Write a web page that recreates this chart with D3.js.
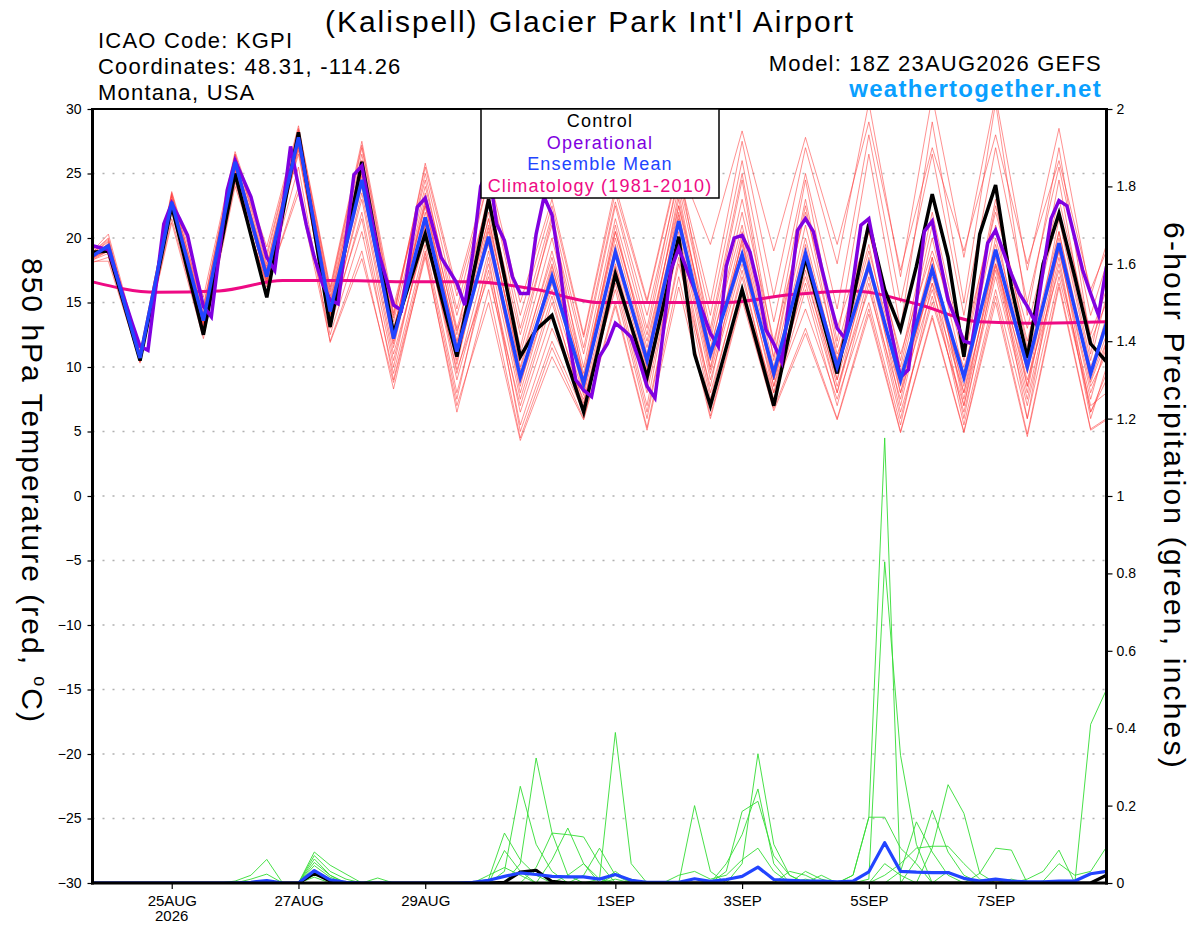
<!DOCTYPE html>
<html>
<head>
<meta charset="utf-8">
<script src="https://cdn.jsdelivr.net/npm/d3@7"></script>
<style>
  body { margin: 0; background: #fff; }
  svg { font-family: "Liberation Sans", Arial, Helvetica, sans-serif; }
</style>
</head>
<body>
<svg id="chart" width="1200" height="927"></svg>
<script>
// model run start: 18Z 23AUG2026, 6-hourly steps out to 384 h
const runStart = Date.UTC(2026, 7, 23, 18);
const runEnd = Date.UTC(2026, 8, 8, 18);

const dateTicks = ["2026-08-25", "2026-08-27", "2026-08-29", "2026-09-01",
  "2026-09-03", "2026-09-05", "2026-09-07"];
const tempTicks = [-30, -25, -20, -15, -10, -5, 0, 5, 10, 15, 20, 25, 30];
const precipTicks = [0, 0.2, 0.4, 0.6, 0.8, 1, 1.2, 1.4, 1.6, 1.8, 2];

// control run 850 hPa temperature, 6-hourly (h = 0..384)
const controlTemp = [18.9, 19.0, 14.8, 10.5, 16.5, 22.5, 17.5, 12.5, 18.8, 25.0,
  20.2, 15.4, 21.8, 28.2, 20.6, 13.1, 19.5, 25.9, 19.2, 12.6,
  16.5, 20.3, 15.5, 10.8, 17.0, 23.0, 17.0, 10.8, 12.9, 14.0,
  10.2, 6.5, 11.8, 17.2, 13.2, 9.2, 14.6, 20.1, 11.0, 7.0,
  11.5, 16.0, 11.5, 7.0, 12.7, 18.5, 14.0, 9.5, 15.3, 21.1,
  16.0, 12.9, 17.8, 23.4, 18.5, 10.8, 20.3, 24.1, 16.2, 10.7,
  18.0, 21.9, 17.0, 11.8, 10.4];

// ensemble mean, 6-hourly
const meanTemp = [18.6, 19.4, 15.0, 10.7, 16.8, 22.8, 18.2, 13.6, 19.8, 25.9,
  21.4, 17.0, 22.4, 27.8, 21.0, 14.3, 19.4, 24.5, 18.4, 12.2,
  16.9, 21.6, 16.4, 11.2, 15.6, 20.1, 14.6, 9.2, 13.1, 17.0,
  12.8, 8.7, 13.8, 18.9, 14.7, 10.5, 15.9, 21.3, 16.1, 11.0,
  14.8, 18.7, 14.1, 9.5, 14.1, 18.8, 14.4, 10.0, 14.0, 17.9,
  13.4, 9.0, 13.3, 17.6, 13.4, 9.2, 14.1, 19.1, 14.5, 10.0,
  14.8, 19.6, 14.5, 9.5, 13.4];

// operational run, 3-hourly
const operTemp = [19.4, 19.25, 19.1, 17.2, 15.3, 13.4, 11.6, 11.3, 16.2, 21.1,
  22.7, 21.5, 20.2, 17.4, 14.7, 13.9, 18.8, 23.7, 26.0, 24.6,
  23.2, 20.8, 18.5, 17.5, 22.3, 27.1, 24.0, 21.0, 18.5, 16.5,
  15.2, 14.9, 19.9, 24.9, 25.6, 22.3, 19.1, 17.0, 14.8, 14.4,
  18.4, 22.4, 23.1, 20.8, 18.5, 17.5, 16.5, 14.8, 18.8, 24.0,
  25.5, 21.1, 19.8, 17.0, 15.7, 15.7, 20.3, 23.2, 21.8, 17.8,
  12.6, 9.0, 8.2, 7.7, 10.8, 11.8, 13.4, 12.9, 12.3, 10.5,
  8.5, 7.6, 12.5, 17.5, 19.2, 17.6, 16.0, 14.3, 12.6, 11.6,
  17.8, 20.0, 20.2, 18.9, 16.3, 12.9, 11.8, 10.4, 15.5, 20.6,
  21.5, 20.5, 17.8, 15.3, 13.0, 12.2, 16.6, 21.0, 21.5, 18.3,
  15.2, 12.2, 9.2, 9.8, 15.0, 20.5, 21.3, 18.2, 15.2, 13.6,
  12.0, 11.8, 15.7, 19.6, 20.6, 18.9, 17.2, 15.7, 14.7, 13.5,
  17.5, 21.5, 22.9, 22.5, 20.0, 17.5, 15.7, 14.0, 17.8];

// climatology (1981-2010), daily at 18Z
const climHours = [0, 24, 48, 72, 96, 120, 144, 168, 192, 216, 240, 264, 288, 312, 336, 360, 384];
const climTemp = [16.6, 15.8, 15.9, 16.7, 16.7, 16.6, 16.6, 16.0, 15.0, 15.0, 15.0, 15.6, 15.9, 14.9, 13.5, 13.4, 13.5];

// ensemble members, values at 00Z/12Z plus first and last step
const memberHours = [0, 6, 18, 30, 42, 54, 66, 78, 90, 102, 114, 126, 138, 150, 162, 174, 186,
  198, 210, 222, 234, 246, 258, 270, 282, 294, 306, 318, 330, 342, 354, 366, 378, 384];
const memberTemps = [
  [18.8, 19.8, 10.9, 23.2, 14.0, 26.2, 17.5, 28.2, 15.0, 26.0, 13.5, 24.0, 14.0, 23.0, 12.5, 21.0, 11.0, 22.5, 13.0, 25.0, 15.0, 27.5, 15.5, 27.0, 18.0, 30.5, 17.0, 31.0, 18.5, 31.0, 17.5, 28.5, 15.5, 19.5],
  [18.2, 18.2, 10.4, 21.5, 12.5, 24.3, 16.4, 23.5, 12.0, 19.0, 8.3, 18.8, 6.5, 16.0, 4.5, 11.5, 6.0, 15.0, 5.3, 17.0, 6.2, 15.5, 6.8, 13.0, 6.0, 14.5, 5.0, 14.0, 5.0, 15.5, 4.8, 16.5, 5.2, 6.0],
  [18.5, 19.2, 10.6, 22.6, 13.3, 25.6, 16.8, 27.5, 14.0, 24.0, 12.0, 21.0, 11.0, 20.5, 9.0, 17.5, 8.0, 19.5, 10.0, 21.5, 10.5, 19.0, 9.0, 19.5, 9.5, 18.0, 8.5, 17.0, 8.5, 19.5, 9.5, 20.0, 9.0, 12.5],
  [19.0, 20.3, 11.2, 23.4, 14.8, 26.5, 18.8, 28.5, 16.0, 27.2, 14.2, 25.5, 15.5, 24.5, 14.0, 22.5, 12.3, 23.5, 15.0, 25.5, 12.0, 23.0, 12.0, 22.0, 13.0, 20.5, 11.0, 19.0, 12.0, 22.0, 13.0, 23.0, 12.5, 16.0],
  [18.3, 18.8, 10.5, 22.0, 13.0, 25.2, 16.8, 26.8, 13.5, 23.0, 10.5, 20.5, 9.0, 18.0, 6.5, 14.0, 7.0, 17.0, 7.0, 20.0, 8.0, 17.0, 7.5, 16.0, 7.0, 16.5, 6.0, 15.5, 6.5, 17.0, 7.0, 18.0, 6.5, 9.0],
  [18.7, 19.5, 10.8, 22.9, 13.8, 25.9, 17.2, 27.9, 14.5, 25.0, 12.5, 22.5, 12.0, 21.5, 10.0, 19.0, 9.5, 20.5, 11.5, 23.0, 11.5, 21.0, 10.0, 21.0, 11.0, 17.5, 9.0, 16.5, 10.0, 18.0, 10.0, 19.0, 8.5, 11.0],
  [18.9, 20.0, 11.0, 23.0, 14.5, 26.5, 18.0, 28.0, 15.5, 26.5, 13.8, 25.8, 16.0, 25.0, 15.0, 23.0, 12.5, 24.0, 15.2, 25.8, 19.5, 28.3, 19.0, 27.8, 19.5, 29.0, 17.5, 27.0, 19.0, 28.0, 18.0, 26.0, 16.0, 19.0],
  [18.4, 19.0, 10.3, 22.3, 13.2, 24.5, 16.2, 24.0, 12.5, 20.5, 9.5, 19.5, 8.0, 17.5, 5.5, 13.0, 7.5, 16.0, 6.0, 18.5, 7.0, 16.0, 8.0, 14.5, 7.5, 15.0, 5.5, 16.5, 5.5, 16.0, 6.0, 17.0, 7.0, 8.0],
  [18.6, 19.3, 10.7, 22.8, 13.5, 25.8, 17.0, 27.6, 14.2, 24.5, 11.5, 22.0, 10.5, 20.0, 8.0, 16.5, 8.5, 18.5, 9.5, 21.0, 9.5, 18.5, 8.0, 18.0, 8.5, 16.0, 7.5, 18.0, 7.5, 18.5, 8.5, 19.0, 8.0, 11.5],
  [18.5, 19.6, 10.9, 23.6, 15.4, 26.7, 19.3, 28.7, 16.2, 27.5, 14.7, 24.5, 13.0, 22.0, 11.0, 20.0, 10.0, 21.5, 12.5, 24.0, 13.0, 25.0, 11.5, 24.5, 12.0, 26.5, 13.0, 29.0, 15.0, 30.5, 14.0, 27.0, 12.0, 15.0],
  [18.1, 18.5, 10.5, 21.2, 12.2, 24.0, 16.5, 25.5, 11.9, 18.4, 8.8, 18.5, 7.0, 15.0, 4.3, 10.8, 5.9, 14.7, 5.1, 16.2, 6.0, 15.2, 6.6, 12.6, 5.9, 14.1, 4.9, 13.8, 4.9, 15.0, 4.6, 16.2, 5.1, 5.9],
  [18.8, 19.7, 11.0, 23.3, 14.2, 26.0, 17.8, 28.3, 15.2, 26.0, 12.8, 23.5, 12.5, 23.5, 11.5, 21.5, 9.0, 20.5, 12.0, 22.5, 12.5, 24.5, 10.5, 22.5, 10.5, 21.5, 10.5, 22.0, 11.0, 23.0, 11.5, 24.5, 11.0, 17.0],
  [18.6, 19.1, 10.6, 22.5, 13.5, 25.0, 17.3, 27.0, 13.0, 22.0, 10.0, 21.0, 9.5, 19.0, 7.5, 15.5, 6.5, 17.5, 8.0, 19.5, 7.5, 17.5, 7.0, 17.5, 8.0, 17.0, 6.5, 15.0, 7.0, 17.5, 7.5, 18.5, 6.0, 10.0],
  [18.4, 19.2, 10.8, 22.7, 13.4, 25.5, 16.6, 27.2, 14.8, 25.5, 13.0, 22.5, 11.5, 21.0, 10.5, 18.5, 9.0, 21.0, 11.0, 22.0, 10.0, 20.5, 9.5, 20.0, 10.0, 19.0, 9.5, 20.0, 9.5, 21.0, 8.5, 21.5, 10.0, 13.5],
  [18.7, 19.4, 10.6, 23.0, 13.9, 26.1, 17.4, 28.0, 13.8, 24.8, 12.2, 22.8, 11.8, 21.5, 9.8, 18.0, 8.2, 19.2, 9.8, 22.5, 11.0, 19.5, 9.0, 19.0, 10.5, 19.5, 8.0, 18.5, 8.0, 20.0, 10.5, 20.5, 9.5, 14.0],
  [18.3, 19.0, 10.4, 22.2, 13.0, 25.4, 16.6, 27.3, 13.2, 23.5, 11.0, 20.0, 9.8, 17.0, 7.0, 15.0, 7.2, 17.8, 8.5, 20.5, 9.0, 18.0, 8.5, 16.5, 8.0, 18.5, 7.0, 17.5, 6.0, 18.0, 9.0, 17.5, 7.5, 12.0],
  [18.5, 19.0, 10.5, 22.4, 13.8, 25.3, 17.6, 26.5, 13.6, 21.5, 9.0, 19.0, 7.5, 18.5, 5.0, 12.0, 6.5, 16.5, 6.5, 18.0, 8.5, 20.0, 9.0, 17.0, 9.0, 21.0, 9.0, 18.5, 7.0, 19.0, 6.0, 19.5, 6.5, 9.5],
  [18.9, 19.9, 11.1, 23.5, 14.6, 26.4, 18.5, 28.4, 15.8, 27.0, 14.0, 25.0, 14.5, 24.5, 13.0, 21.8, 11.5, 22.8, 14.0, 24.5, 14.0, 26.0, 13.5, 25.0, 14.5, 28.0, 15.0, 26.5, 14.0, 27.0, 15.0, 25.5, 14.0, 18.0],
  [18.4, 19.5, 10.8, 22.9, 13.6, 25.7, 17.1, 27.7, 14.6, 25.2, 12.6, 23.0, 12.8, 19.5, 8.5, 17.8, 9.2, 20.0, 10.8, 23.5, 11.2, 22.0, 10.8, 23.0, 11.5, 20.5, 10.0, 21.0, 10.5, 22.5, 12.0, 22.0, 10.5, 15.5],
  [18.6, 19.2, 10.6, 22.6, 13.4, 25.6, 17.0, 27.1, 14.1, 24.2, 11.8, 21.5, 10.2, 20.8, 8.8, 16.0, 7.8, 18.0, 9.0, 21.8, 9.8, 19.8, 8.5, 19.0, 9.0, 17.5, 8.0, 16.0, 8.0, 17.8, 8.0, 20.5, 8.8, 12.0]
];

// 6-hour precipitation (inches), 6-hourly
const controlPrecip = [0, 0, 0, 0, 0, 0, 0, 0, 0, 0,
  0, 0, 0, 0, 0.025, 0.005, 0, 0, 0, 0,
  0, 0, 0, 0, 0, 0, 0.002, 0.028, 0.033, 0.004,
  0, 0, 0, 0, 0, 0, 0, 0, 0, 0,
  0, 0, 0, 0, 0, 0, 0, 0, 0, 0,
  0, 0, 0, 0, 0, 0, 0, 0, 0, 0,
  0, 0, 0, 0, 0.02];
const meanPrecip = [0, 0, 0, 0, 0, 0, 0, 0, 0, 0,
  0.002, 0.006, 0, 0, 0.032, 0.008, 0.002, 0, 0, 0,
  0, 0, 0, 0, 0.002, 0.007, 0.017, 0.026, 0.022, 0.017,
  0.016, 0.016, 0.010, 0.022, 0.007, 0.002, 0.002, 0.002, 0.011, 0.004,
  0.009, 0.017, 0.041, 0.009, 0.007, 0.005, 0.005, 0.003, 0.005, 0.029,
  0.104, 0.030, 0.028, 0.027, 0.027, 0.012, 0.005, 0.010, 0.005, 0.003,
  0.003, 0.005, 0.005, 0.024, 0.030];
const memberPrecip = [
  [0, 0, 0, 0, 0, 0, 0, 0, 0, 0,
   0, 0, 0, 0, 0.08, 0.046, 0.023, 0, 0, 0,
   0, 0, 0, 0, 0, 0, 0.03, 0.25, 0.10, 0.03,
   0, 0, 0, 0, 0, 0, 0, 0, 0, 0,
   0, 0, 0, 0, 0, 0.01, 0, 0, 0.02, 0.17,
   1.15, 0, 0, 0, 0, 0, 0, 0, 0, 0,
   0, 0, 0, 0, 0],
  [0, 0, 0, 0, 0, 0, 0, 0, 0, 0,
   0, 0, 0, 0, 0.071, 0.03, 0.01, 0, 0, 0,
   0, 0, 0, 0, 0, 0, 0, 0.05, 0.323, 0.13,
   0.02, 0, 0, 0, 0, 0, 0, 0, 0, 0,
   0, 0, 0, 0, 0, 0, 0, 0, 0, 0.01,
   0.83, 0.33, 0.10, 0, 0, 0, 0, 0, 0, 0,
   0, 0, 0, 0, 0],
  [0, 0, 0, 0, 0, 0, 0, 0, 0, 0.005,
   0.02, 0.061, 0, 0, 0.062, 0.02, 0, 0, 0, 0,
   0, 0, 0, 0, 0, 0.01, 0.129, 0.06, 0.02, 0,
   0, 0, 0.01, 0.389, 0.05, 0, 0, 0, 0.20, 0.03,
   0, 0, 0, 0, 0, 0, 0, 0, 0, 0,
   0, 0, 0, 0, 0, 0, 0, 0, 0, 0,
   0, 0, 0, 0, 0],
  [0, 0, 0, 0, 0, 0, 0, 0, 0, 0,
   0, 0, 0, 0, 0.053, 0.02, 0, 0, 0, 0,
   0, 0, 0, 0, 0, 0, 0, 0, 0.04, 0.129,
   0.125, 0.119, 0.05, 0, 0, 0, 0, 0, 0, 0,
   0, 0.05, 0.334, 0.10, 0.02, 0, 0, 0, 0, 0,
   0, 0, 0, 0, 0, 0, 0, 0, 0, 0.01,
   0.03, 0.085, 0, 0.41, 0.50],
  [0, 0, 0, 0, 0, 0, 0, 0, 0, 0,
   0, 0, 0, 0, 0.045, 0.015, 0, 0, 0.013, 0,
   0, 0, 0, 0, 0, 0, 0, 0, 0, 0.06,
   0.142, 0.05, 0, 0, 0, 0, 0, 0, 0, 0,
   0.03, 0.185, 0.211, 0.07, 0.02, 0, 0, 0, 0, 0,
   0, 0.03, 0.158, 0.08, 0.02, 0, 0, 0, 0, 0,
   0, 0, 0, 0, 0],
  [0, 0, 0, 0, 0, 0, 0, 0, 0, 0,
   0, 0, 0, 0, 0.032, 0.01, 0, 0, 0, 0,
   0, 0, 0, 0, 0, 0, 0, 0, 0, 0,
   0, 0.02, 0.09, 0.02, 0, 0, 0, 0, 0, 0,
   0.05, 0.125, 0.243, 0.05, 0, 0, 0, 0, 0, 0,
   0, 0, 0.06, 0.188, 0.08, 0.02, 0, 0, 0, 0,
   0, 0, 0, 0, 0],
  [0, 0, 0, 0, 0, 0, 0, 0, 0, 0,
   0.01, 0.023, 0, 0, 0.02, 0.01, 0, 0, 0, 0,
   0, 0, 0, 0, 0, 0, 0.084, 0.03, 0, 0,
   0, 0, 0, 0.02, 0.01, 0, 0, 0.02, 0.03, 0.01,
   0.02, 0.06, 0.09, 0.03, 0, 0, 0, 0, 0, 0,
   0, 0, 0, 0.09, 0.254, 0.18, 0.025, 0, 0, 0,
   0, 0, 0, 0, 0],
  [0, 0, 0, 0, 0, 0, 0, 0, 0, 0,
   0, 0, 0, 0, 0.015, 0, 0, 0, 0, 0,
   0, 0, 0, 0, 0, 0, 0, 0, 0, 0,
   0, 0, 0, 0.01, 0, 0, 0, 0, 0, 0,
   0, 0, 0, 0, 0, 0.03, 0.01, 0, 0.02, 0.17,
   0.17, 0.09, 0.05, 0, 0, 0, 0.025, 0.09, 0.085, 0,
   0, 0, 0, 0, 0],
  [0, 0, 0, 0, 0, 0, 0, 0, 0, 0,
   0, 0, 0, 0, 0, 0, 0, 0, 0, 0,
   0, 0, 0, 0, 0, 0, 0, 0, 0, 0,
   0, 0, 0, 0.03, 0, 0, 0, 0, 0, 0,
   0, 0, 0, 0, 0.03, 0.02, 0, 0, 0, 0,
   0.02, 0.05, 0.09, 0.095, 0.095, 0.05, 0.01, 0, 0, 0,
   0.005, 0.05, 0.02, 0.03, 0.093],
  [0, 0, 0, 0, 0, 0, 0, 0, 0, 0,
   0, 0, 0, 0, 0.025, 0.01, 0, 0, 0, 0,
   0, 0, 0, 0, 0, 0.02, 0.04, 0.02, 0, 0,
   0.02, 0.05, 0.01, 0, 0, 0, 0, 0, 0.01, 0,
   0, 0, 0, 0, 0, 0, 0.02, 0, 0, 0,
   0.05, 0.02, 0, 0, 0.03, 0.01, 0, 0, 0.01, 0,
   0, 0, 0, 0, 0.02]
];

const legendItems = [
  { label: "Control", color: "#000000" },
  { label: "Operational", color: "#8000e0" },
  { label: "Ensemble Mean", color: "#2244ff" },
  { label: "Climatology (1981-2010)", color: "#ee0a84" }
];

// ---------------------------------------------------------------
const svg = d3.select("#chart");
const plot = { left: 92.5, right: 1106.5, top: 109, bottom: 883 };
const hour = 3600 * 1000;

const x = d3.scaleUtc().domain([runStart, runEnd]).range([plot.left, plot.right]);
const yT = d3.scaleLinear().domain([-30, 30]).range([plot.bottom, plot.top]);
const yP = d3.scaleLinear().domain([0, 2]).range([plot.bottom, plot.top]);

svg.append("rect").attr("width", 1200).attr("height", 927).attr("fill", "#fff");

svg.append("defs").append("clipPath").attr("id", "plot-clip")
  .append("rect")
  .attr("x", plot.left).attr("y", plot.top)
  .attr("width", plot.right - plot.left).attr("height", plot.bottom - plot.top);

// dotted grid at temperature ticks
svg.append("g")
  .selectAll("line")
  .data(tempTicks.filter(d => d > -30 && d < 30))
  .enter()
  .append("line")
  .attr("x1", plot.left).attr("x2", plot.right)
  .attr("y1", d => yT(d)).attr("y2", d => yT(d))
  .attr("stroke", "#b0b0b0")
  .attr("stroke-width", 1.3)
  .attr("stroke-dasharray", "2,8");

const lines = svg.append("g").attr("clip-path", "url(#plot-clip)");

const lineAt = (stepHours, scale) => d3.line()
  .x((_, i) => x(runStart + i * stepHours * hour))
  .y(d => scale(d));

// ensemble member temperatures
lines.append("g")
  .selectAll("path")
  .data(memberTemps)
  .enter()
  .append("path")
  .attr("d", d3.line()
    .x((_, i) => x(runStart + memberHours[i] * hour))
    .y(d => yT(d)))
  .attr("fill", "none")
  .attr("stroke", "#ff3a3a")
  .attr("stroke-opacity", 0.7)
  .attr("stroke-width", 0.8);

// ensemble member precipitation
lines.append("g")
  .selectAll("path")
  .data(memberPrecip)
  .enter()
  .append("path")
  .attr("d", lineAt(6, yP))
  .attr("fill", "none")
  .attr("stroke", "#33dd33")
  .attr("stroke-width", 0.9);

lines.append("path")
  .datum(controlPrecip)
  .attr("d", lineAt(6, yP))
  .attr("fill", "none")
  .attr("stroke", "#000")
  .attr("stroke-width", 3.2)
  .attr("stroke-linejoin", "round");

lines.append("path")
  .datum(meanPrecip)
  .attr("d", lineAt(6, yP))
  .attr("fill", "none")
  .attr("stroke", "#2244ff")
  .attr("stroke-width", 3.2)
  .attr("stroke-linejoin", "round");

// climatology
lines.append("path")
  .datum(climTemp)
  .attr("d", d3.line()
    .x((_, i) => x(runStart + climHours[i] * hour))
    .y(d => yT(d))
    .curve(d3.curveMonotoneX))
  .attr("fill", "none")
  .attr("stroke", "#ee0a84")
  .attr("stroke-width", 3);

lines.append("path")
  .datum(controlTemp)
  .attr("d", lineAt(6, yT))
  .attr("fill", "none")
  .attr("stroke", "#000")
  .attr("stroke-width", 3.5);

lines.append("path")
  .datum(operTemp)
  .attr("d", lineAt(3, yT))
  .attr("fill", "none")
  .attr("stroke", "#8000e0")
  .attr("stroke-width", 3.5);

lines.append("path")
  .datum(meanTemp)
  .attr("d", lineAt(6, yT))
  .attr("fill", "none")
  .attr("stroke", "#2244ff")
  .attr("stroke-width", 3.5);

// axes
const leftAxis = svg.append("g")
  .attr("transform", `translate(${plot.left},0)`)
  .call(d3.axisLeft(yT).tickValues(tempTicks).tickSize(5).tickPadding(6));
const rightAxis = svg.append("g")
  .attr("transform", `translate(${plot.right},0)`)
  .call(d3.axisRight(yP).tickValues(precipTicks).tickSize(6).tickPadding(4)
    .tickFormat(d3.format("~g")));
const bottomAxis = svg.append("g")
  .attr("transform", `translate(0,${plot.bottom})`)
  .call(d3.axisBottom(x)
    .tickValues(dateTicks.map(d => new Date(d + "T00:00:00Z")))
    .tickSize(6).tickPadding(6)
    .tickFormat(d => d3.utcFormat("%-d%b")(d).toUpperCase()));

[leftAxis, rightAxis, bottomAxis].forEach(g => {
  g.select(".domain").remove();
  g.selectAll("text").attr("fill", "#000").style("font-family", "Liberation Sans, Arial, sans-serif");
  g.selectAll("line").attr("stroke", "#000").attr("stroke-width", 1.2);
});
leftAxis.selectAll("text").style("font-size", "14px");
rightAxis.selectAll("text").style("font-size", "14px");
bottomAxis.selectAll("text").style("font-size", "15px");

svg.append("text")
  .attr("x", x(new Date(dateTicks[0] + "T00:00:00Z")))
  .attr("y", 921)
  .attr("text-anchor", "middle")
  .style("font-size", "15px")
  .text("2026");

// frame
const frame = svg.append("g").attr("stroke", "#000");
frame.append("line").attr("x1", plot.left).attr("x2", plot.right)
  .attr("y1", plot.top).attr("y2", plot.top).attr("stroke-width", 2);
frame.append("line").attr("x1", plot.left - 1.5).attr("x2", plot.right + 1.5)
  .attr("y1", plot.bottom).attr("y2", plot.bottom).attr("stroke-width", 3);
frame.append("line").attr("x1", plot.left).attr("x2", plot.left)
  .attr("y1", plot.top - 1).attr("y2", plot.bottom + 1.5).attr("stroke-width", 3);
frame.append("line").attr("x1", plot.right).attr("x2", plot.right)
  .attr("y1", plot.top - 1).attr("y2", plot.bottom + 1.5).attr("stroke-width", 3);

// legend
const legend = svg.append("g");
legend.append("rect")
  .attr("x", 481).attr("y", plot.top)
  .attr("width", 238).attr("height", 89)
  .attr("fill", "#fff").attr("stroke", "#000").attr("stroke-width", 1.5);
legend.selectAll("text")
  .data(legendItems)
  .enter()
  .append("text")
  .attr("x", 600)
  .attr("y", (_, i) => 127 + i * 21.6)
  .attr("text-anchor", "middle")
  .attr("fill", d => d.color)
  .style("font-size", "18px")
  .style("letter-spacing", "1.2px")
  .text(d => d.label);

// titles
svg.append("text")
  .attr("x", 590).attr("y", 32)
  .attr("text-anchor", "middle")
  .style("font-size", "30px")
  .style("letter-spacing", "2px")
  .text("(Kalispell) Glacier Park Int'l Airport");

const info = ["ICAO Code: KGPI", "Coordinates: 48.31, -114.26", "Montana, USA"];
svg.append("g")
  .selectAll("text")
  .data(info)
  .enter()
  .append("text")
  .attr("x", 98)
  .attr("y", (_, i) => 48 + i * 26)
  .style("font-size", "22px")
  .style("letter-spacing", "1.2px")
  .text(d => d);

svg.append("text")
  .attr("x", 1102).attr("y", 71)
  .attr("text-anchor", "end")
  .style("font-size", "22px")
  .style("letter-spacing", "1.2px")
  .text("Model: 18Z 23AUG2026 GEFS");

svg.append("text")
  .attr("x", 1102).attr("y", 97)
  .attr("text-anchor", "end")
  .attr("fill", "#0aa0ff")
  .style("font-size", "24px")
  .style("font-weight", "bold")
  .style("letter-spacing", "1.3px")
  .text("weathertogether.net");

// axis titles, both read top to bottom
const leftTitle = svg.append("text")
  .attr("transform", "translate(22,491) rotate(90)")
  .attr("text-anchor", "middle")
  .style("font-size", "30px")
  .style("letter-spacing", "2px");
leftTitle.append("tspan").text("850 hPa Temperature (red, ");
leftTitle.append("tspan").attr("dy", -12).style("font-size", "18px").text("o");
leftTitle.append("tspan").attr("dy", 12).text("C)");

svg.append("text")
  .attr("transform", "translate(1164,496) rotate(90)")
  .attr("text-anchor", "middle")
  .style("font-size", "30px")
  .style("letter-spacing", "2.2px")
  .text("6-hour Precipitation (green, inches)");
</script>
</body>
</html>
